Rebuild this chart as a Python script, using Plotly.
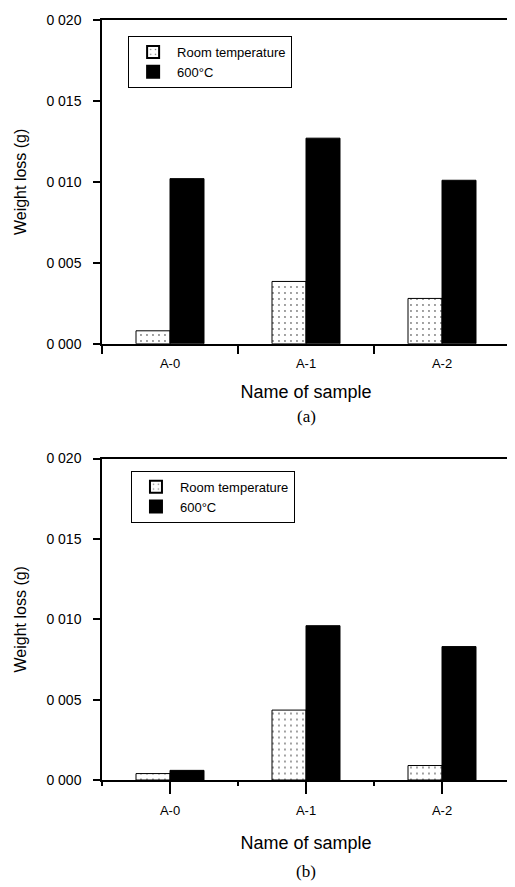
import plotly.graph_objects as go

samples = ["A-0", "A-1", "A-2"]
sample_pos = [0, 1, 2]
series_names = ["Room temperature", "600°C"]

# panel (a)
a_room = [0.0008, 0.00385, 0.0028]
a_600 = [0.0102, 0.0127, 0.0101]
# panel (b)
b_room = [0.0004, 0.00435, 0.0009]
b_600 = [0.0006, 0.0096, 0.0083]

y_tickvals = [0.0, 0.005, 0.010, 0.015, 0.020]
y_ticktext = ["0 000", "0 005", "0 010", "0 015", "0 020"]

FONT = "Liberation Sans, Arial, sans-serif"

room_style = dict(color="white",
                  line=dict(color="black", width=1),
                  pattern=dict(shape=".", fgcolor="black", bgcolor="white",
                               size=6, solidity=0.08))
hot_style = dict(color="black", line=dict(color="black", width=1))

fig = go.Figure()
fig.add_trace(go.Bar(x=sample_pos, y=a_room, name=series_names[0], marker=room_style,
                     xaxis="x", yaxis="y", legend="legend", offsetgroup="r"))
fig.add_trace(go.Bar(x=sample_pos, y=a_600, name=series_names[1], marker=hot_style,
                     xaxis="x", yaxis="y", legend="legend", offsetgroup="h"))
fig.add_trace(go.Bar(x=sample_pos, y=b_room, name=series_names[0], marker=room_style,
                     xaxis="x2", yaxis="y2", legend="legend2", offsetgroup="r"))
fig.add_trace(go.Bar(x=sample_pos, y=b_600, name=series_names[1], marker=hot_style,
                     xaxis="x2", yaxis="y2", legend="legend2", offsetgroup="h"))

def xaxis(domain_anchor, major_len, minor_len, lab_standoff, title_standoff):
    return dict(
        anchor=domain_anchor, range=[-0.5, 2.5], tickmode="array",
        tickvals=sample_pos, ticktext=samples,
        ticks="outside" if major_len else "", ticklen=major_len, tickwidth=1.5,
        tickcolor="black", ticklabelstandoff=lab_standoff,
        minor=dict(ticks="outside", ticklen=minor_len, tickwidth=1.5, tick0=-0.5,
                   dtick=1, tickcolor="black"),
        showline=True, linecolor="black", linewidth=1.5, mirror=True,
        showgrid=False, zeroline=False,
        tickfont=dict(family=FONT, size=13, color="black"),
        title=dict(text="Name of sample", standoff=title_standoff,
                   font=dict(family=FONT, size=18, color="black")),
    )

def yaxis(domain, anchor):
    return dict(
        domain=domain, anchor=anchor, range=[0, 0.020], tickmode="array",
        tickvals=y_tickvals, ticktext=y_ticktext,
        ticks="outside", ticklen=7, tickwidth=1.5, tickcolor="black",
        ticklabelstandoff=9,
        showline=True, linecolor="black", linewidth=1.5, mirror=True,
        showgrid=False, zeroline=False,
        tickfont=dict(family=FONT, size=14, color="black"),
        title=dict(text="Weight loss (g)", standoff=16,
                   font=dict(family=FONT, size=16, color="black")),
    )

legend_style = dict(bgcolor="white", bordercolor="black", borderwidth=1,
                    font=dict(family=FONT, size=13, color="black"),
                    xanchor="left", yanchor="top", tracegroupgap=0,
                    itemsizing="constant", itemwidth=38)

fig.update_layout(
    width=515, height=887,
    margin=dict(l=94, r=13, t=4, b=115),
    paper_bgcolor="white", plot_bgcolor="white",
    barmode="group", bargap=0.5, bargroupgap=0,
    xaxis=xaxis("y", 0, 8, 7, 15),
    yaxis=yaxis([0.574, 1.0], "x"),
    xaxis2=xaxis("y2", 12, 4, 6, 19),
    yaxis2=yaxis([0.0, 0.423], "x2"),
    legend=dict(x=0.064, y=0.979, **legend_style),
    legend2=dict(x=0.071, y=0.407, **legend_style),
    annotations=[
        dict(text="(a)", xref="paper", yref="paper", x=0.5, y=0.478, yanchor="middle",
             showarrow=False, font=dict(family="Liberation Serif, serif", size=17, color="black")),
        dict(text="(b)", xref="paper", yref="paper", x=0.5, y=-0.121, yanchor="middle",
             showarrow=False, font=dict(family="Liberation Serif, serif", size=17, color="black")),
    ],
)

fig.write_html("out.html")
